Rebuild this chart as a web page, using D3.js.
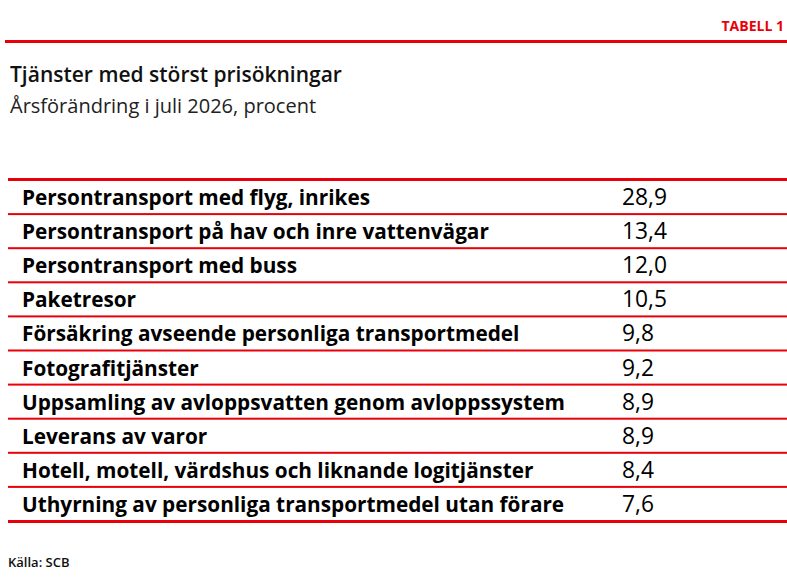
<!doctype html>
<html>
<head>
<meta charset="UTF-8">
<script src="https://d3js.org/d3.v7.min.js"></script>
<style>
  body { margin: 0; background: white; }
  text { font-family: "Open Sans", sans-serif; }
</style>
</head>
<body>
<script>
var labels = [
  "Persontransport med flyg, inrikes",
  "Persontransport på hav och inre vattenvägar",
  "Persontransport med buss",
  "Paketresor",
  "Försäkring avseende personliga transportmedel",
  "Fotografitjänster",
  "Uppsamling av avloppsvatten genom avloppssystem",
  "Leverans av varor",
  "Hotell, motell, värdshus och liknande logitjänster",
  "Uthyrning av personliga transportmedel utan förare"
];
var values = ["28,9", "13,4", "12,0", "10,5", "9,8", "9,2", "8,9", "8,9", "8,4", "7,6"];

var width = 787, height = 583, red = "#e8000b";
var svg = d3.select("body").append("svg").attr("width", width).attr("height", height);

svg.append("text").attr("x", 784).attr("y", 31).attr("text-anchor", "end")
  .attr("fill", red).attr("font-size", 14).attr("font-weight", "bold")
  .attr("font-family", "Liberation Sans Narrow, Liberation Sans, sans-serif").text("TABELL 1");
svg.append("rect").attr("x", 5).attr("y", 40).attr("width", 782).attr("height", 3).attr("fill", red);

svg.append("text").attr("x", 10).attr("y", 82).attr("font-size", 21).attr("font-weight", 600)
  .attr("fill", "#111").text("Tjänster med störst prisökningar");
svg.append("text").attr("x", 10).attr("y", 113).attr("font-size", 20)
  .attr("fill", "#222").text("Årsförändring i juli 2026, procent");

var y = d3.scaleBand().domain(d3.range(labels.length)).range([180, 521]);

svg.append("rect").attr("x", 8).attr("y", 178).attr("width", 779).attr("height", 3).attr("fill", red);
svg.selectAll(".sep").data(d3.range(labels.length)).join("rect")
  .attr("x", 8).attr("y", d => y(d) + y.bandwidth() - 1)
  .attr("width", 779).attr("height", d => d === labels.length - 1 ? 3 : 2).attr("fill", red);

var lab = svg.selectAll(".lab").data(labels).join("text")
  .attr("x", 22).attr("y", (d, i) => y(i) + y.bandwidth() / 2 + 8)
  .attr("font-size", 20).attr("font-weight", "bold").attr("fill", "#000")
  .attr("font-family", "Liberation Sans Narrow, Open Sans, sans-serif").text(d => d);
// fit the longest label to its width in the reference
var maxw = d3.max(lab.nodes(), n => n.getComputedTextLength());
var fs = Math.min(24, 20 * 543 / maxw);
lab.attr("font-size", fs);

svg.selectAll(".val").data(values).join("text")
  .attr("x", 622).attr("y", (d, i) => y(i) + y.bandwidth() / 2 + 8)
  .attr("font-size", fs + 2).attr("fill", "#000")
  .attr("font-family", "Liberation Sans Narrow, Open Sans, sans-serif").text(d => d);

svg.append("text").attr("x", 8).attr("y", 567).attr("font-size", 13).attr("font-weight", 600)
  .attr("fill", "#111").text("Källa: SCB");
</script>
</body>
</html>
